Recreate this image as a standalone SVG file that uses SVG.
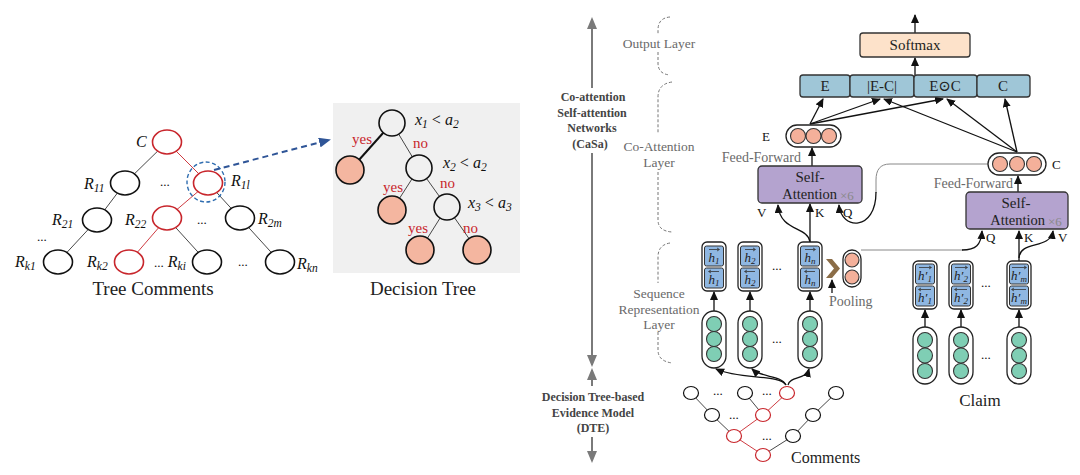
<svg xmlns="http://www.w3.org/2000/svg" width="1080" height="475" viewBox="0 0 1080 475" font-family="'Liberation Serif','DejaVu Serif',serif">
<defs>
<style>
text{font-family:'Liberation Serif','DejaVu Serif',serif;}
.m{font-style:italic;font-size:16px;fill:#111;}
.sb{font-size:11.5px;}
.tn{fill:#fff;stroke:#111;stroke-width:1.6;}
.tr{fill:#fff;stroke:#c8262c;stroke-width:1.6;}
.eb{stroke:#333;stroke-width:0.9;fill:none;}
.er{stroke:#c8262c;stroke-width:0.9;fill:none;}
.dn{fill:#f0f0f0;stroke:#111;stroke-width:1.6;}
.df{fill:#f4b6a0;stroke:#111;stroke-width:1.6;}
.yn{font-size:15px;fill:#c8262c;}
.cap{fill:#fff;stroke:#222;stroke-width:1.3;}
.gc{fill:#7fceb4;stroke:#333;stroke-width:1.1;}
.oc{fill:#f4b09a;stroke:#333;stroke-width:1.1;}
.hb{fill:#8fb7e2;stroke:#333;stroke-width:1;}
.h{font-style:italic;font-size:13px;fill:#222;text-anchor:middle;}
.hs{font-size:9px;}
.ha{stroke:#333;stroke-width:0.8;fill:none;}
.bl{fill:#9fc6d7;stroke:#333;stroke-width:1.3;}
.pu{fill:#b4a3cf;stroke:#333;stroke-width:1.3;}
.bt{font-size:15px;fill:#222;text-anchor:middle;}
.at{font-size:14.5px;fill:#222;text-anchor:end;}
.gl{font-size:13.5px;fill:#6a6a6a;text-anchor:middle;}
.ff{font-size:14px;fill:#6a6a6a;}
.ffe{font-size:14px;fill:#6a6a6a;text-anchor:end;}
.lab{font-size:13px;fill:#111;}
.x6{font-size:13px;fill:#888;}
.k{stroke:#111;stroke-width:1.3;fill:none;}
.gy{stroke:#888;stroke-width:1;fill:none;}
.br{stroke:#777;stroke-width:1;fill:none;stroke-dasharray:3,2;}
.va{stroke:#7a7a7a;stroke-width:2;fill:none;}
.bd{font-size:12px;font-weight:bold;fill:#444;text-anchor:middle;}
.dots{font-size:13px;fill:#111;}
.cn{fill:#fff;stroke:#111;stroke-width:1.2;}
.cr{fill:#fff;stroke:#c8262c;stroke-width:1.2;}
</style>
<marker id="ah" markerUnits="userSpaceOnUse" markerWidth="9" markerHeight="8" refX="8" refY="4" orient="auto"><path d="M0,0 L9,4 L0,8 z" fill="#111"/></marker>
<marker id="ga" markerUnits="userSpaceOnUse" markerWidth="12" markerHeight="10" refX="10" refY="5" orient="auto"><path d="M0,0 L12,5 L0,10 z" fill="#7a7a7a"/></marker>
<marker id="ba" markerUnits="userSpaceOnUse" markerWidth="12" markerHeight="10" refX="10" refY="5" orient="auto"><path d="M0,0 L12,5 L0,10 z" fill="#2f5597"/></marker>
</defs>
<rect width="1080" height="475" fill="#fff"/>

<!-- ===== Left: Tree Comments ===== -->
<g id="tree-edges">
<line class="eb" x1="167" y1="142" x2="125" y2="183"/>
<line class="er" x1="167" y1="142" x2="208" y2="183"/>
<line class="eb" x1="125" y1="183" x2="97" y2="220"/>
<line class="er" x1="208" y1="183" x2="167" y2="218"/>
<line class="eb" x1="208" y1="183" x2="240" y2="218"/>
<line class="eb" x1="97" y1="220" x2="58" y2="262"/>
<line class="er" x1="167" y1="218" x2="129" y2="262"/>
<line class="eb" x1="167" y1="218" x2="207" y2="262"/>
<line class="eb" x1="240" y1="218" x2="280" y2="262"/>
</g>
<g id="t-C"><ellipse class="tr" cx="167" cy="142" rx="14.5" ry="12"/><text class="m" x="136" y="147">C</text></g>
<g id="t-R11"><ellipse class="tn" cx="125" cy="183" rx="14.5" ry="12"/><text class="m" x="84" y="189">R<tspan class="sb" dy="3">11</tspan></text></g>
<text class="dots" x="160" y="186">...</text>
<g id="t-R1l"><ellipse class="tr" cx="208" cy="183" rx="14.5" ry="12"/>
<ellipse cx="206" cy="182" rx="19" ry="20" fill="none" stroke="#2f6db0" stroke-width="1.4" stroke-dasharray="4,2.5"/>
<text class="m" x="231" y="186">R<tspan class="sb" dy="3">1l</tspan></text></g>
<g id="t-R21"><ellipse class="tn" cx="97" cy="220" rx="14.5" ry="12"/><text class="m" x="52" y="225">R<tspan class="sb" dy="3">21</tspan></text></g>
<g id="t-R22"><ellipse class="tr" cx="167" cy="218" rx="14.5" ry="12"/><text class="m" x="125" y="225">R<tspan class="sb" dy="3">22</tspan></text></g>
<text class="dots" x="197" y="224">...</text>
<g id="t-R2m"><ellipse class="tn" cx="240" cy="218" rx="14.5" ry="12"/><text class="m" x="258" y="224">R<tspan class="sb" dy="3">2m</tspan></text></g>
<text class="dots" x="37" y="241">...</text>
<g id="t-Rk1"><ellipse class="tn" cx="58" cy="262" rx="14.5" ry="12"/><text class="m" x="15" y="267">R<tspan class="sb" dy="3">k1</tspan></text></g>
<g id="t-Rk2"><ellipse class="tr" cx="129" cy="262" rx="14.5" ry="12"/><text class="m" x="87" y="267">R<tspan class="sb" dy="3">k2</tspan></text></g>
<g id="t-Rki"><ellipse class="tn" cx="207" cy="262" rx="14.5" ry="12"/><text class="m" x="154" y="267"><tspan font-style="normal" font-size="13">...</tspan> R<tspan class="sb" dy="3">ki</tspan></text></g>
<text class="dots" x="238" y="266">...</text>
<g id="t-Rkn"><ellipse class="tn" cx="280" cy="262" rx="14.5" ry="12"/><text class="m" x="297" y="269">R<tspan class="sb" dy="3">kn</tspan></text></g>
<text x="153" y="295" font-size="19" text-anchor="middle" fill="#222">Tree Comments</text>

<g id="zoom-arrow"><line x1="214" y1="170" x2="329" y2="140" stroke="#2f5597" stroke-width="2" stroke-dasharray="6,4" marker-end="url(#ba)"/></g>

<!-- ===== Decision Tree ===== -->
<g id="decision-tree">
<rect x="333" y="103" width="187" height="170" fill="#f0f0f0"/>
<line x1="392" y1="123" x2="350" y2="170" stroke="#111" stroke-width="2"/>
<line class="eb" x1="392" y1="123" x2="419" y2="168"/>
<line class="eb" x1="419" y1="168" x2="392" y2="210"/>
<line class="eb" x1="419" y1="168" x2="447" y2="207"/>
<line class="eb" x1="447" y1="207" x2="420" y2="250"/>
<line class="eb" x1="447" y1="207" x2="477" y2="250"/>
<circle class="dn" cx="392" cy="123" r="13"/>
<circle class="df" cx="350" cy="170" r="14"/>
<circle class="dn" cx="419" cy="168" r="13"/>
<circle class="df" cx="392" cy="210" r="14"/>
<circle class="dn" cx="447" cy="207" r="13"/>
<circle class="df" cx="420" cy="250" r="14"/>
<circle class="df" cx="477" cy="250" r="14"/>
<text class="m" x="415" y="125" font-size="14">x<tspan class="sb" dy="3">1</tspan><tspan dy="-3" font-style="normal"> &lt; </tspan>a<tspan class="sb" dy="3">2</tspan></text>
<text class="m" x="443" y="168" font-size="14">x<tspan class="sb" dy="3">2</tspan><tspan dy="-3" font-style="normal"> &lt; </tspan>a<tspan class="sb" dy="3">2</tspan></text>
<text class="m" x="468" y="208" font-size="14">x<tspan class="sb" dy="3">3</tspan><tspan dy="-3" font-style="normal"> &lt; </tspan>a<tspan class="sb" dy="3">3</tspan></text>
<text class="yn" x="352" y="144">yes</text>
<text class="yn" x="413" y="148">no</text>
<text class="yn" x="383" y="192">yes</text>
<text class="yn" x="440" y="188">no</text>
<text class="yn" x="408" y="233">yes</text>
<text class="yn" x="463" y="233">no</text>
</g>
<text x="423" y="295" font-size="19" text-anchor="middle" fill="#222">Decision Tree</text>

<!-- ===== Middle vertical arrow and labels ===== -->
<g id="side-axis">
<line class="va" x1="592" y1="88" x2="592" y2="19" marker-end="url(#ga)"/>
<text class="bd" x="593" y="101">Co-attention</text>
<text class="bd" x="592" y="117">Self-attention</text>
<text class="bd" x="592" y="132">Networks</text>
<text class="bd" x="590" y="148">(CaSa)</text>
<line class="va" x1="592" y1="153" x2="592" y2="365" marker-end="url(#ga)"/>
<line class="va" x1="592" y1="386" x2="592" y2="370" marker-end="url(#ga)"/>
<text class="bd" x="593" y="401">Decision Tree-based</text>
<text class="bd" x="593" y="417">Evidence Model</text>
<text class="bd" x="593" y="432">(DTE)</text>
<line class="va" x1="592" y1="437" x2="592" y2="461" marker-end="url(#ga)"/>
</g>
<g id="braces">
<path class="br" d="M670,17 Q658,18 658,30 L658,34 M658,52 L658,63 Q658,74 670,75"/>
<text class="gl" x="659" y="48">Output Layer</text>
<path class="br" d="M672,82 Q658,84 658,97 L658,134 M658,172 L658,220 Q658,231 672,232"/>
<text class="gl" x="659" y="151">Co-Attention</text>
<text class="gl" x="659" y="167">Layer</text>
<path class="br" d="M670,243 Q658,245 658,257 L658,283 M658,332 L658,350 Q658,361 672,363"/>
<text class="gl" x="659" y="298">Sequence</text>
<text class="gl" x="659" y="314">Representation</text>
<text class="gl" x="659" y="329">Layer</text>
</g>

<!-- ===== Connectors (right model) ===== -->
<g id="connectors">
<line class="k" x1="915" y1="33" x2="915" y2="15" marker-end="url(#ah)"/>
<line class="k" x1="915" y1="75" x2="915" y2="58" marker-end="url(#ah)"/>
<line class="k" x1="810" y1="124" x2="823" y2="99" marker-end="url(#ah)"/>
<line class="k" x1="810" y1="124" x2="880" y2="99" marker-end="url(#ah)"/>
<line class="k" x1="810" y1="124" x2="943" y2="99" marker-end="url(#ah)"/>
<line class="k" x1="1017" y1="152" x2="884" y2="99" marker-end="url(#ah)"/>
<line class="k" x1="1017" y1="152" x2="947" y2="99" marker-end="url(#ah)"/>
<line class="k" x1="1017" y1="152" x2="1005" y2="99" marker-end="url(#ah)"/>
<line class="k" x1="812" y1="166" x2="812" y2="148" marker-end="url(#ah)"/>
<line class="k" x1="1018" y1="192" x2="1018" y2="176" marker-end="url(#ah)"/>
<path class="gy" d="M988,164 L890,164 C880,164 876,170 876,180 L876,193"/>
<path class="k" d="M876,192 C876,232 841,230 839,205" marker-end="url(#ah)"/>
<line class="k" x1="810" y1="242" x2="810" y2="204" marker-end="url(#ah)"/>
<path class="k" d="M810,242 C808,226 780,232 778,205" marker-end="url(#ah)"/>
<path class="gy" d="M861,250 L963,250"/>
<path class="k" d="M962,250 C976,250 981,245 982,231" marker-end="url(#ah)"/>
<line class="k" x1="1019" y1="261" x2="1019" y2="231" marker-end="url(#ah)"/>
<path class="k" d="M1019,258 C1020,240 1050,250 1053,231" marker-end="url(#ah)"/>
<line class="k" x1="832" y1="293" x2="832" y2="280" marker-end="url(#ah)"/>
<line class="k" x1="714" y1="311" x2="714" y2="292" marker-end="url(#ah)"/>
<line class="k" x1="750" y1="311" x2="750" y2="292" marker-end="url(#ah)"/>
<line class="k" x1="810" y1="311" x2="810" y2="292" marker-end="url(#ah)"/>
<line class="k" x1="925" y1="327" x2="925" y2="310" marker-end="url(#ah)"/>
<line class="k" x1="961" y1="327" x2="961" y2="310" marker-end="url(#ah)"/>
<line class="k" x1="1019" y1="327" x2="1019" y2="310" marker-end="url(#ah)"/>
<path class="k" d="M786,385 C780,374 740,380 716,369" marker-end="url(#ah)"/>
<path class="k" d="M786,385 C781,375 762,378 752,369" marker-end="url(#ah)"/>
<path class="k" d="M788,385 C790,376 806,380 809,369" marker-end="url(#ah)"/>
</g>

<!-- ===== Output layer ===== -->
<g id="softmax"><rect x="860" y="33" width="110" height="24" rx="3" fill="#fde2ca" stroke="#333" stroke-width="1.3"/><text class="bt" x="915" y="50">Softmax</text></g>
<g id="out-E"><rect class="bl" x="800" y="75" width="50" height="22" rx="3"/><text class="bt" x="825" y="91">E</text></g>
<g id="out-EmC"><rect class="bl" x="850" y="75" width="64" height="22" rx="3"/><text class="bt" x="882" y="91">|E-C|</text></g>
<g id="out-EoC"><rect class="bl" x="914" y="75" width="63" height="22" rx="3"/><text class="bt" x="945" y="91">E⊙C</text></g>
<g id="out-C"><rect class="bl" x="977" y="75" width="53" height="22" rx="3"/><text class="bt" x="1003" y="91">C</text></g>

<!-- ===== Co-attention layer ===== -->
<g id="E-vec"><rect class="cap" x="786" y="125" width="55" height="22" rx="11"/>
<circle class="oc" cx="798" cy="136" r="7.5"/><circle class="oc" cx="813.5" cy="136" r="7.5"/><circle class="oc" cx="829" cy="136" r="7.5"/>
<text class="lab" x="762" y="141" font-size="15">E</text></g>
<g id="C-vec"><rect class="cap" x="988" y="153" width="58" height="22" rx="11"/>
<circle class="oc" cx="1000" cy="164" r="7.5"/><circle class="oc" cx="1017" cy="164" r="7.5"/><circle class="oc" cx="1034" cy="164" r="7.5"/>
<text class="lab" x="1052" y="169" font-size="15">C</text></g>
<text class="ffe" x="801" y="162">Feed-Forward</text>
<text class="ffe" x="1013" y="188">Feed-Forward</text>
<g id="SA-left"><rect class="pu" x="758" y="166" width="104" height="37" rx="4"/>
<text class="bt" x="810" y="182">Self-</text><text class="at" x="837" y="199">Attention</text><text class="x6" x="840" y="200">×6</text>
<text class="lab" x="757" y="217">V</text><text class="lab" x="815" y="217">K</text><text class="lab" x="843" y="217">Q</text></g>
<g id="SA-right"><rect class="pu" x="966" y="192" width="102" height="37" rx="4"/>
<text class="bt" x="1016" y="208">Self-</text><text class="at" x="1045" y="225">Attention</text><text class="x6" x="1048" y="226">×6</text>
<text class="lab" x="986" y="242">Q</text><text class="lab" x="1024" y="242">K</text><text class="lab" x="1058" y="242">V</text></g>

<!-- ===== Sequence representation: comments ===== -->
<g id="h-1"><rect class="cap" x="702" y="242" width="24" height="49" rx="5"/>
<rect class="hb" x="704.5" y="246" width="19" height="20" rx="2"/><rect class="hb" x="704.5" y="268" width="19" height="20" rx="2"/>
<path class="ha" d="M709,249.5 H719 M717,248 L719.5,249.5 L717,251 M709,271.5 H719 M711,270 L708.5,271.5 L711,273"/>
<text class="h" x="714" y="262">h<tspan class="hs" dy="2">1</tspan></text><text class="h" x="714" y="284">h<tspan class="hs" dy="2">1</tspan></text></g>
<g id="h-2"><rect class="cap" x="738" y="242" width="24" height="49" rx="5"/>
<rect class="hb" x="740.5" y="246" width="19" height="20" rx="2"/><rect class="hb" x="740.5" y="268" width="19" height="20" rx="2"/>
<path class="ha" d="M745,249.5 H755 M753,248 L755.5,249.5 L753,251 M745,271.5 H755 M747,270 L744.5,271.5 L747,273"/>
<text class="h" x="750" y="262">h<tspan class="hs" dy="2">2</tspan></text><text class="h" x="750" y="284">h<tspan class="hs" dy="2">2</tspan></text></g>
<text class="dots" x="772" y="270">...</text>
<g id="h-n"><rect class="cap" x="798" y="242" width="24" height="49" rx="5"/>
<rect class="hb" x="800.5" y="246" width="19" height="20" rx="2"/><rect class="hb" x="800.5" y="268" width="19" height="20" rx="2"/>
<path class="ha" d="M805,249.5 H815 M813,248 L815.5,249.5 L813,251 M805,271.5 H815 M807,270 L804.5,271.5 L807,273"/>
<text class="h" x="810" y="262">h<tspan class="hs" dy="2">n</tspan></text><text class="h" x="810" y="284">h<tspan class="hs" dy="2">n</tspan></text></g>
<g id="pooling"><polygon points="826,259 832,259 840,268.5 832,278 826,278 834,268.5" fill="#8b6d47"/>
<rect class="cap" x="843" y="250" width="18" height="37" rx="9"/>
<circle class="oc" cx="852" cy="260" r="7"/><circle class="oc" cx="852" cy="277" r="7"/>
<text class="ff" x="829" y="306">Pooling</text></g>
<g id="g-1"><rect class="cap" x="702" y="311" width="24" height="57" rx="12"/><circle class="gc" cx="714" cy="324" r="7.5"/><circle class="gc" cx="714" cy="339" r="7.5"/><circle class="gc" cx="714" cy="354" r="7.5"/></g>
<g id="g-2"><rect class="cap" x="738" y="311" width="24" height="57" rx="12"/><circle class="gc" cx="750" cy="324" r="7.5"/><circle class="gc" cx="750" cy="339" r="7.5"/><circle class="gc" cx="750" cy="354" r="7.5"/></g>
<text class="dots" x="772" y="343">...</text>
<g id="g-n"><rect class="cap" x="798" y="311" width="24" height="57" rx="12"/><circle class="gc" cx="810" cy="324" r="7.5"/><circle class="gc" cx="810" cy="339" r="7.5"/><circle class="gc" cx="810" cy="354" r="7.5"/></g>

<!-- ===== Sequence representation: claim ===== -->
<g id="hc-1"><rect class="cap" x="913" y="261" width="24" height="48" rx="5"/>
<rect class="hb" x="915.5" y="264" width="19" height="20" rx="2"/><rect class="hb" x="915.5" y="286" width="19" height="20" rx="2"/>
<path class="ha" d="M919,267.5 H931 M929,266 L931.5,267.5 L929,269 M919,289.5 H931 M921,288 L918.5,289.5 L921,291"/>
<text class="h" x="925" y="280">h′<tspan class="hs" dy="2">1</tspan></text><text class="h" x="925" y="302">h′<tspan class="hs" dy="2">1</tspan></text></g>
<g id="hc-2"><rect class="cap" x="949" y="261" width="24" height="48" rx="5"/>
<rect class="hb" x="951.5" y="264" width="19" height="20" rx="2"/><rect class="hb" x="951.5" y="286" width="19" height="20" rx="2"/>
<path class="ha" d="M955,267.5 H967 M965,266 L967.5,267.5 L965,269 M955,289.5 H967 M957,288 L954.5,289.5 L957,291"/>
<text class="h" x="961" y="280">h′<tspan class="hs" dy="2">2</tspan></text><text class="h" x="961" y="302">h′<tspan class="hs" dy="2">2</tspan></text></g>
<text class="dots" x="981" y="287">...</text>
<g id="hc-m"><rect class="cap" x="1007" y="261" width="24" height="48" rx="5"/>
<rect class="hb" x="1009.5" y="264" width="19" height="20" rx="2"/><rect class="hb" x="1009.5" y="286" width="19" height="20" rx="2"/>
<path class="ha" d="M1012,267.5 H1026 M1024,266 L1026.5,267.5 L1024,269 M1012,289.5 H1026 M1014,288 L1011.5,289.5 L1014,291"/>
<text class="h" x="1019" y="280">h′<tspan class="hs" dy="2">m</tspan></text><text class="h" x="1019" y="302">h′<tspan class="hs" dy="2">m</tspan></text></g>
<g id="gc-1"><rect class="cap" x="913" y="327" width="24" height="57" rx="12"/><circle class="gc" cx="925" cy="340" r="7.5"/><circle class="gc" cx="925" cy="355.5" r="7.5"/><circle class="gc" cx="925" cy="371" r="7.5"/></g>
<g id="gc-2"><rect class="cap" x="949" y="327" width="24" height="57" rx="12"/><circle class="gc" cx="961" cy="340" r="7.5"/><circle class="gc" cx="961" cy="355.5" r="7.5"/><circle class="gc" cx="961" cy="371" r="7.5"/></g>
<text class="dots" x="981" y="359">...</text>
<g id="gc-m"><rect class="cap" x="1007" y="327" width="24" height="57" rx="12"/><circle class="gc" cx="1019" cy="340" r="7.5"/><circle class="gc" cx="1019" cy="355.5" r="7.5"/><circle class="gc" cx="1019" cy="371" r="7.5"/></g>
<text x="980" y="406" font-size="17" text-anchor="middle" fill="#222">Claim</text>

<!-- ===== Comments tree (bottom) ===== -->
<g id="comments-tree">
<line class="eb" x1="691" y1="393" x2="712" y2="415"/>
<line class="eb" x1="745" y1="393" x2="763" y2="415"/>
<line class="er" x1="787" y1="393" x2="763" y2="415"/>
<line class="eb" x1="836" y1="393" x2="813" y2="415"/>
<line class="eb" x1="712" y1="415" x2="734" y2="436"/>
<line class="er" x1="763" y1="415" x2="734" y2="436"/>
<line class="eb" x1="813" y1="415" x2="793" y2="436"/>
<line class="er" x1="734" y1="436" x2="763" y2="455"/>
<line class="eb" x1="793" y1="436" x2="763" y2="455"/>
<ellipse class="cn" cx="691" cy="393" rx="7.5" ry="6.5"/>
<ellipse class="cn" cx="745" cy="393" rx="7.5" ry="6.5"/>
<ellipse class="cr" cx="787" cy="393" rx="7.5" ry="6.5"/>
<ellipse class="cn" cx="836" cy="393" rx="7.5" ry="6.5"/>
<ellipse class="cn" cx="712" cy="415" rx="7.5" ry="6.5"/>
<ellipse class="cr" cx="763" cy="415" rx="7.5" ry="6.5"/>
<ellipse class="cn" cx="813" cy="415" rx="7.5" ry="6.5"/>
<ellipse class="cr" cx="734" cy="436" rx="7.5" ry="6.5"/>
<ellipse class="cn" cx="793" cy="436" rx="7.5" ry="6.5"/>
<ellipse class="cr" cx="763" cy="455" rx="7.5" ry="6.5"/>
<text class="dots" x="713" y="395" font-size="11">...</text>
<text class="dots" x="762" y="395" font-size="11">...</text>
<text class="dots" x="729" y="419" font-size="11">...</text>
<text class="dots" x="762" y="440" font-size="11">...</text>
</g>
<text x="791" y="463" font-size="16" fill="#222">Comments</text>
</svg>
